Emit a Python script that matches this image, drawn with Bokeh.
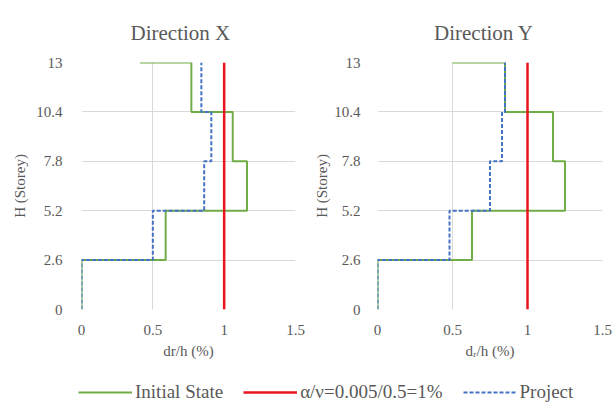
from bokeh.plotting import figure
from bokeh.layouts import column, row
from bokeh.models import FixedTicker, Legend, LegendItem, Range1d
from bokeh.embed import file_html
from bokeh.resources import INLINE

# ---- data ----
heights = [0, 2.6, 5.2, 7.8, 10.4, 13]
initial_x = [0, 0.59, 1.16, 1.06, 0.77, 0.41]
project_x = [0, 0.50, 0.86, 0.91, 0.84, 0.84]
initial_y = [0, 0.63, 1.25, 1.17, 0.85, 0.50]
project_y = [0, 0.48, 0.75, 0.83, 0.85, 0.85]
limit_value = 1.0
x_ticks = [0, 0.5, 1, 1.5]
x_tick_labels = ["0", "0.5", "1", "1.5"]
y_tick_labels = ["0", "2.6", "5.2", "7.8", "10.4", "13"]
titles = ["Direction X", "Direction Y"]
x_labels = ["dr/h (%)", "d\u1d63/h (%)"]
y_label = "H (Storey)"
legend_labels = ["Initial State", "\u03b1/\u03bd=0.005/0.5=1%", "Project"]

GREEN = "#70AD47"
RED = "#E8141E"
BLUE = "#4472C4"
TXT = "#595959"
FONT = "Liberation Serif"
NAN = float("nan")

FIG_H = 381
TITLE_W = 100  # approx. rendered width of the title text at 21px


def step(d, h):
    xs, ys = [], []
    for i in range(len(d) - 1):
        xs += [d[i], d[i]]
        ys += [h[i], h[i + 1]]
    xs.append(d[-1])
    ys.append(h[-1])
    return xs, ys


def make_plot(title, xlabel, init, proj, w, bl, br, bt, bb, title_dx, tick_so, lab_so):
    fw = w - bl - br
    p = figure(width=w, height=FIG_H, output_backend="svg", toolbar_location=None,
               x_range=Range1d(0, 1.5), y_range=Range1d(0, 13),
               min_border_left=bl, min_border_right=br,
               min_border_top=bt, min_border_bottom=bb)
    p.title.text = title
    p.title.align = "left"
    p.title.offset = fw / 2 + title_dx - TITLE_W / 2
    p.title.vertical_align = "top"
    p.title.text_font = FONT
    p.title.text_font_size = "21px"
    p.title.text_font_style = "normal"
    p.title.text_color = TXT
    p.title.standoff = 32
    p.outline_line_color = None
    p.background_fill_color = "white"
    p.border_fill_color = "white"

    for ax in (p.xaxis[0], p.yaxis[0]):
        ax.axis_line_color = None
        ax.major_tick_line_color = None
        ax.minor_tick_line_color = None
        ax.major_label_text_font = FONT
        ax.major_label_text_font_size = "15px"
        ax.major_label_text_color = TXT
        ax.axis_label_text_font = FONT
        ax.axis_label_text_font_size = "15px"
        ax.axis_label_text_font_style = "normal"
        ax.axis_label_text_color = TXT

    p.xaxis.ticker = FixedTicker(ticks=x_ticks)
    p.xaxis.major_label_overrides = {t: l for t, l in zip(x_ticks, x_tick_labels)}
    p.yaxis.ticker = FixedTicker(ticks=heights)
    p.yaxis.major_label_overrides = {t: l for t, l in zip(heights, y_tick_labels)}
    p.xaxis.major_label_standoff = 9
    p.yaxis.major_label_standoff = tick_so
    p.xaxis.axis_label = xlabel
    p.xaxis.axis_label_standoff = 5
    p.yaxis.axis_label = y_label
    p.yaxis.axis_label_standoff = lab_so

    p.grid.grid_line_color = "#D9D9D9"
    p.grid.grid_line_width = 1

    xs, ys = step(init, heights)
    p.line(xs, ys, line_color=GREEN, line_width=2)
    p.line([limit_value, limit_value], [heights[0], heights[-1]], line_color=RED, line_width=2.5)
    xs, ys = step(proj, heights)
    p.line(xs, ys, line_color=BLUE, line_width=2, line_dash="4 2")
    return p


p1 = make_plot(titles[0], x_labels[0], initial_x, project_x, 310, 81, 15, 60, FIG_H - 309, -8, 13, 5)
p2 = make_plot(titles[1], x_labels[1], initial_y, project_y, 305, 67, 13, 62, FIG_H - 313, -6, 11, 1)

leg = figure(width=615, height=403 - FIG_H, output_backend="svg", toolbar_location=None,
             x_range=Range1d(0, 1), y_range=Range1d(0, 1), min_border=0)
leg.axis.visible = False
leg.grid.visible = False
leg.outline_line_color = None
r1 = leg.line([NAN, NAN], [NAN, NAN], line_color=GREEN, line_width=2)
r2 = leg.line([NAN, NAN], [NAN, NAN], line_color=RED, line_width=2.5)
r3 = leg.line([NAN, NAN], [NAN, NAN], line_color=BLUE, line_width=2, line_dash="4 2")
legend = Legend(items=[LegendItem(label=legend_labels[0], renderers=[r1]),
                       LegendItem(label=legend_labels[1], renderers=[r2]),
                       LegendItem(label=legend_labels[2], renderers=[r3])],
                orientation="horizontal", location=(78, 0),
                glyph_width=54, glyph_height=18, label_standoff=3, spacing=20,
                label_text_font=FONT, label_text_font_size="19px",
                label_text_color=TXT, border_line_color=None,
                background_fill_alpha=0, padding=0, margin=0)
leg.add_layout(legend, "center")

layout = column(row(p1, p2), leg)
open("out.html", "w").write(file_html(layout, INLINE))
